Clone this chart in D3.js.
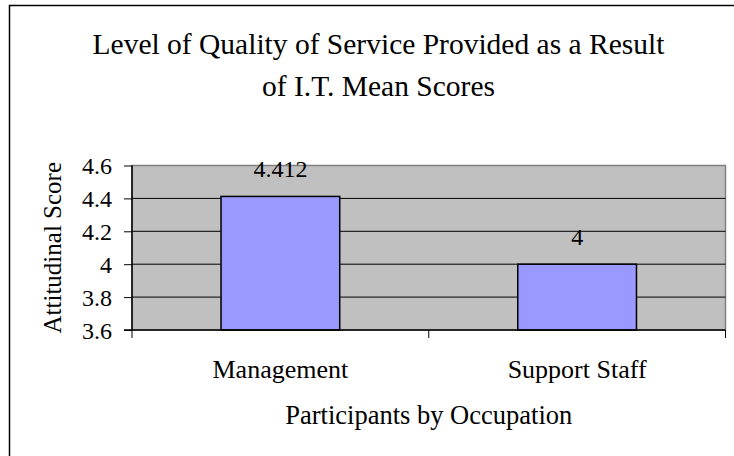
<!DOCTYPE html>
<html><head><meta charset="utf-8">
<script src="https://cdn.jsdelivr.net/npm/d3@7"></script>
<style>
html,body{margin:0;padding:0;background:#fff;}
svg{display:block;}
</style></head>
<body>
<script>
const categories = ["Management", "Support Staff"];
const values = [4.412, 4];
const valueLabels = ["4.412", "4"];
const yTicks = [3.6, 3.8, 4.0, 4.2, 4.4, 4.6];
const titleLines = ["Level of Quality of Service Provided as a Result", "of I.T. Mean Scores"];
const yTitle = "Attitudinal Score";
const xTitle = "Participants by Occupation";

const FONT = "'Liberation Serif'";
const W = 734, H = 456;
const plot = {l: 132, r: 725.5, t: 165.5, b: 330};

const svg = d3.select("body").append("svg").attr("width", W).attr("height", H);

// outer chart border (extends beyond view)
svg.append("rect").attr("x", 9.5).attr("y", 5.5).attr("width", 800).attr("height", 500)
  .attr("fill", "none").attr("stroke", "#000").attr("stroke-width", 1.5);

// title
svg.selectAll(".title").data(titleLines).join("text").attr("class", "title")
  .attr("x", 378.5).attr("y", (d, i) => 54 + i * 42).attr("text-anchor", "middle")
  .style("font-family", FONT).style("font-size", "29.5px").text(d => d);

const x = d3.scaleBand().domain(categories).range([plot.l, plot.r]).paddingInner(0.6).paddingOuter(0.3);
const y = d3.scaleLinear().domain([3.6, 4.6]).range([plot.b, plot.t]);

// plot background
svg.append("rect").attr("x", plot.l).attr("y", plot.t).attr("width", plot.r - plot.l).attr("height", plot.b - plot.t)
  .attr("fill", "#C0C0C0").attr("stroke", "#808080").attr("stroke-width", 1.5);

// gridlines
svg.append("g").selectAll("line").data(yTicks.filter(d => d > 3.6 && d < 4.6)).join("line")
  .attr("x1", plot.l).attr("x2", plot.r).attr("y1", d => y(d)).attr("y2", d => y(d))
  .attr("stroke", "#000").attr("stroke-width", 1);

// bars
svg.append("g").selectAll("rect").data(categories).join("rect")
  .attr("x", d => x(d)).attr("width", x.bandwidth())
  .attr("y", (d, i) => y(values[i])).attr("height", (d, i) => y(3.6) - y(values[i]))
  .attr("fill", "#9999FF").attr("stroke", "#000").attr("stroke-width", 1.5);

// value labels
svg.append("g").selectAll("text").data(categories).join("text")
  .attr("x", d => x(d) + x.bandwidth() / 2).attr("y", (d, i) => y(values[i]) - 19)
  .attr("text-anchor", "middle").style("font-family", FONT).style("font-size", "24px")
  .text((d, i) => valueLabels[i]);

// y axis
const yAxis = svg.append("g").attr("transform", `translate(${plot.l},0)`)
  .call(d3.axisLeft(y).tickValues(yTicks).tickSize(8).tickPadding(12).tickFormat(d => String(+d.toFixed(1))));
yAxis.attr("font-family", null).attr("font-size", null);
yAxis.select(".domain").attr("stroke", "#000").attr("stroke-width", 1.5).attr("d", `M0,${plot.t}V${plot.b}`);
yAxis.selectAll(".tick line").attr("stroke", "#000");
yAxis.selectAll(".tick text").style("font-family", FONT).style("font-size", "24px")
  .attr("dy", null).attr("y", 8);

// x axis
const step = x.step();
const bounds = [plot.l].concat(categories.map(c => x(c) + x.bandwidth() / 2 + step / 2));
const xg = svg.append("g");
xg.append("line").attr("x1", plot.l - 8).attr("x2", plot.r).attr("y1", plot.b).attr("y2", plot.b)
  .attr("stroke", "#000").attr("stroke-width", 1.5);
xg.selectAll(".tk").data(bounds).join("line").attr("class", "tk")
  .attr("x1", d => d).attr("x2", d => d).attr("y1", plot.b).attr("y2", plot.b + 8)
  .attr("stroke", "#000");
xg.selectAll(".cat").data(categories).join("text").attr("class", "cat")
  .attr("x", d => x(d) + x.bandwidth() / 2).attr("y", 377.5)
  .attr("text-anchor", "middle").style("font-family", FONT).style("font-size", "26px").text(d => d);

// axis titles
svg.append("text").attr("x", (plot.l + plot.r) / 2).attr("y", 424).attr("text-anchor", "middle")
  .style("font-family", FONT).style("font-size", "26.5px").text(xTitle);
svg.append("text").attr("transform", `translate(61,${(plot.t + plot.b) / 2}) rotate(-90)`)
  .attr("text-anchor", "middle").style("font-family", FONT).style("font-size", "25px").text(yTitle);
</script>
</body></html>
